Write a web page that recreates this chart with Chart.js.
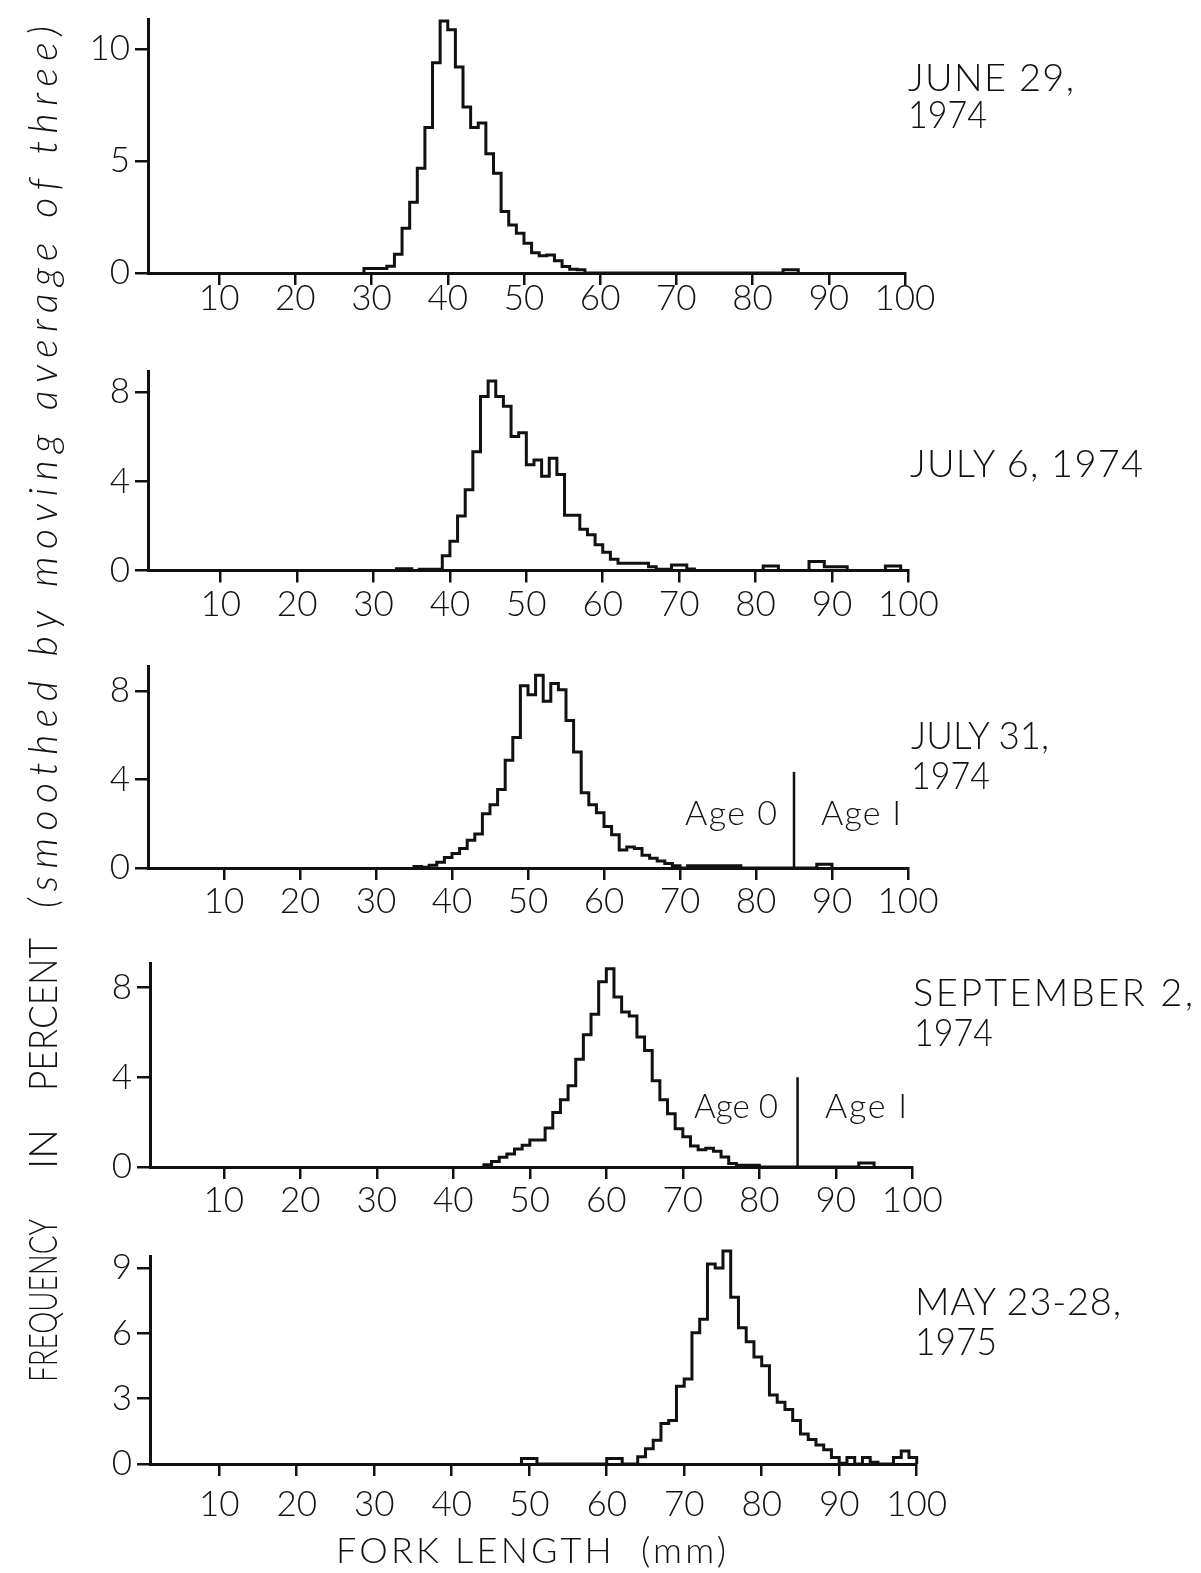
<!DOCTYPE html>
<html>
<head>
<meta charset="utf-8">
<script src="https://cdn.jsdelivr.net/npm/chart.js@4.4.1/dist/chart.umd.min.js"></script>
<style>
  html, body { margin: 0; padding: 0; background: #fff; }
  #page { position: relative; width: 1201px; height: 1573px; overflow: hidden; background: #fff;
          font-family: Lato, "DejaVu Sans", sans-serif; font-weight: 300; color: #111; }
  #page canvas { position: absolute; left: 0; }
  .lbl { position: absolute; white-space: nowrap; line-height: 1; }
  .mark { display: inline-block; width: 0; height: 0; vertical-align: baseline; }
</style>
</head>
<body>
<div id="page"></div>
<script>
// Fork-length axis ticks (mm), shared by every panel
const forkLengthTicks = [10, 20, 30, 40, 50, 60, 70, 80, 90, 100];

// Percent frequency per 1-mm length class, smoothed by a moving average of three.
// Each series starts at the given fork length and runs in 1-mm steps.
const june29Start = 29;
const june29Pct = [
  0.2, 0.2, 0.2, 0.3, 0.84, 2.0, 3.16, 4.68, 6.5, 9.4,
  11.26, 10.87, 9.2, 7.42, 6.5, 6.7, 5.33, 4.46, 2.75, 2.14,
  1.78, 1.33, 0.91, 0.77, 0.8, 0.55, 0.29, 0.17, 0.14, 0,
  0, 0, 0, 0, 0, 0, 0, 0, 0, 0,
  0, 0, 0, 0, 0, 0, 0, 0, 0, 0,
  0, 0, 0, 0, 0, 0.15, 0.15
];
const june29YTicks = [0, 5, 10];

const july6Start = 33;
const july6Pct = [
  0.08, 0.08, 0, 0.06, 0.06, 0.06, 0.66, 1.31, 2.45, 3.62,
  5.33, 7.81, 8.5, 7.81, 7.37, 6.01, 6.18, 4.74, 4.96, 4.23,
  5.04, 4.31, 2.48, 2.48, 1.85, 1.6, 1.15, 0.82, 0.5, 0.32,
  0.32, 0.32, 0.32, 0.17, 0.06, 0.06, 0.25, 0.25, 0.07, 0,
  0, 0, 0, 0, 0, 0, 0, 0, 0.2, 0.2,
  0, 0, 0, 0, 0.4, 0.4, 0.17, 0.17, 0.17, 0,
  0, 0, 0, 0, 0.2, 0.2
];
const july6YTicks = [0, 4, 8];

const july31Start = 35;
const july31Pct = [
  0.07, 0.03, 0.12, 0.26, 0.47, 0.66, 0.88, 1.25, 1.54, 2.46,
  2.86, 3.55, 4.87, 5.9, 8.25, 7.84, 8.72, 7.55, 8.35, 8.06,
  6.67, 5.25, 3.4, 2.86, 2.5, 1.88, 1.51, 0.81, 0.95, 0.88,
  0.58, 0.44, 0.32, 0.2, 0.1, 0, 0.1, 0.1, 0.1, 0.1,
  0.1, 0.1, 0.1, 0, 0, 0, 0, 0, 0, 0,
  0, 0, 0, 0.17, 0.17
];
const july31YTicks = [0, 4, 8];

const sept2Start = 44;
const sept2Pct = [
  0.1, 0.25, 0.43, 0.58, 0.8, 0.97, 1.2, 1.2, 1.74, 2.43,
  3.0, 3.62, 4.81, 5.9, 6.81, 8.26, 8.84, 7.58, 6.91, 6.74,
  5.8, 5.2, 3.85, 3.0, 2.37, 1.71, 1.35, 0.94, 0.77, 0.84,
  0.7, 0.45, 0.16, 0.08, 0.08, 0.08, 0, 0, 0, 0,
  0, 0, 0, 0, 0, 0, 0, 0, 0, 0.18, 0.18
];
const sept2YTicks = [0, 4, 8];

const may1975Start = 49;
const may1975Pct = [
  0.25, 0.25, 0, 0, 0, 0, 0, 0, 0, 0,
  0, 0.25, 0.25, 0, 0, 0.33, 0.7, 1.09, 1.86, 2.0,
  3.57, 3.9, 6.03, 6.65, 9.18, 9.0, 9.78, 7.66, 6.25, 5.61,
  4.91, 4.51, 3.17, 2.83, 2.5, 2.0, 1.38, 1.12, 0.87, 0.65,
  0.3, 0.03, 0.3, 0, 0.3, 0.08, 0, 0, 0.3, 0.6, 0.3
];
const may1975YTicks = [0, 3, 6, 9];

// Boundary between age-0 and age-I fish: [fork length, marker height]
const july31AgeBreak = [85, 4.35];
const sept2AgeBreak = [85, 4.0];

const INK = '#111';
const FONT = 'Lato, "DejaVu Sans", sans-serif';
const page = document.getElementById('page');

// Outline of a 1-mm step histogram, closed down to the baseline at both ends
function stepOutline(start, values) {
  const pts = [{ x: start, y: 0 }];
  values.forEach((v, i) => pts.push({ x: start + i, y: v }));
  pts.push({ x: start + values.length, y: 0 });
  return pts;
}

function makePanel(p) {
  const top = p.baseline - p.yMax * p.unit;
  const right = p.left + (100 - p.xMin) * p.pxPerMm;
  const cTop = Math.floor(top) - 20;
  const cH = Math.ceil(p.baseline) - cTop + 80;
  const Wy = 110, Hx = 70;

  const canvas = document.createElement('canvas');
  canvas.width = 1201; canvas.height = cH;
  canvas.style.width = '1201px'; canvas.style.height = cH + 'px';
  canvas.style.top = cTop + 'px';
  page.appendChild(canvas);

  const datasets = [{
    data: stepOutline(p.start, p.values),
    stepped: 'before', borderColor: INK, borderWidth: 3,
    pointRadius: 0, fill: false, clip: false, borderJoinStyle: 'miter'
  }];
  if (p.ageBreak) {
    datasets.push({
      data: [{ x: p.ageBreak[0], y: 0 }, { x: p.ageBreak[0], y: p.ageBreak[1] }],
      borderColor: INK, borderWidth: 2.5, pointRadius: 0, fill: false
    });
  }

  const tickFont = { family: FONT, size: 35, weight: 300 };
  new Chart(canvas, {
    type: 'line',
    data: { datasets },
    options: {
      responsive: false, animation: false, events: [],
      layout: {
        autoPadding: false,
        padding: { left: p.left - Wy, right: 1201 - right, top: top - cTop, bottom: cTop + cH - p.baseline - Hx }
      },
      plugins: { legend: { display: false }, tooltip: { enabled: false } },
      scales: {
        x: {
          type: 'linear', min: p.xMin, max: 100,
          afterFit: s => { s.height = Hx; },
          afterBuildTicks: s => { s.ticks = forkLengthTicks.map(v => ({ value: v })); },
          grid: { drawOnChartArea: false, tickLength: 12, color: INK, lineWidth: 2.5 },
          border: { color: INK, width: 3 },
          ticks: { font: tickFont, color: INK, padding: p.labelGap, maxRotation: 0, autoSkip: false }
        },
        y: {
          type: 'linear', min: 0, max: p.yMax,
          afterFit: s => { s.width = Wy; },
          afterBuildTicks: s => { s.ticks = p.yTicks.map(v => ({ value: v })); },
          grid: { drawOnChartArea: false, tickLength: 13, color: INK, lineWidth: 2.5 },
          border: { color: INK, width: 3 },
          ticks: { font: tickFont, color: INK, padding: 5, autoSkip: false }
        }
      }
    }
  });
}

// Places a text line with its left edge at x and its baseline at y.
// Wider-than-natural lines are letter-spaced, narrower ones are squeezed.
function addText(html, x, y, size, width, opts) {
  opts = opts || {};
  const d = document.createElement('div');
  d.className = 'lbl';
  d.style.fontSize = size + 'px';
  d.style.left = x + 'px';
  d.style.top = '0px';
  if (opts.style) Object.assign(d.style, opts.style);
  d.innerHTML = html + '<span class="mark"></span>';
  page.appendChild(d);
  const n = d.textContent.length;
  const w = d.getBoundingClientRect().width;
  const base = d.querySelector('.mark').offsetTop;
  let squeeze = 1;
  if (width && w > width) squeeze = width / w;
  else if (width && n > 1) d.style.letterSpacing = ((width - w) / (n - 1)) + 'px';
  d.style.top = (y - base) + 'px';
  d.style.transformOrigin = '0px ' + base + 'px';
  const parts = [];
  if (opts.up) parts.push('rotate(-90deg)');
  if (squeeze !== 1) parts.push('scaleX(' + squeeze + ')');
  if (parts.length) d.style.transform = parts.join(' ');
  return d;
}

function draw() {
  makePanel({ start: june29Start, values: june29Pct, yTicks: june29YTicks, labelGap: -7,
              xMin: 0.66, left: 148, pxPerMm: 7.62, baseline: 273, unit: 22.9, yMax: 11.35 });
  makePanel({ start: july6Start, values: july6Pct, yTicks: july6YTicks, labelGap: 1,
              xMin: 0.48, left: 148, pxPerMm: 7.64, baseline: 570.5, unit: 22.9, yMax: 8.95 });
  makePanel({ start: july31Start, values: july31Pct, yTicks: july31YTicks, ageBreak: july31AgeBreak, labelGap: 1,
              xMin: 0, left: 148, pxPerMm: 7.6, baseline: 868, unit: 22.75, yMax: 9.14 });
  makePanel({ start: sept2Start, values: sept2Pct, yTicks: sept2YTicks, ageBreak: sept2AgeBreak, labelGap: 1,
              xMin: 0.35, left: 150, pxPerMm: 7.65, baseline: 1167, unit: 23, yMax: 9.1 });
  makePanel({ start: may1975Start, values: may1975Pct, yTicks: may1975YTicks, labelGap: 8,
              xMin: 1.07, left: 150, pxPerMm: 7.75, baseline: 1464, unit: 22.4, yMax: 9.55 });

  // Sampling dates
  addText('JUNE 29,', 908, 91, 38, 166);
  addText('1974', 908, 128, 38, 79);
  addText('JULY 6, 1974', 910, 477, 38, 233);
  addText('JULY 31,', 911, 749, 38, 138);
  addText('1974', 911, 789, 38, 79);
  addText('SEPTEMBER 2,', 913, 1006, 38, 280);
  addText('1974', 914, 1046, 38, 79);
  addText('MAY 23-28,', 915, 1315, 38, 206);
  addText('1975', 915, 1355, 38, 82);

  // Age-group labels either side of the break
  addText('Age 0', 685, 825, 34, 92);
  addText('Age I', 821, 825, 34, 80);
  addText('Age 0', 694, 1118, 34, 84);
  addText('Age I', 825, 1118, 34, 82);

  // Axis titles
  addText('FORK LENGTH&nbsp;&nbsp;(mm)', 336, 1563, 36, 390);
  addText('FREQUENCY', 57, 1382, 40, 163, { up: true });
  addText('IN', 57, 1169, 40, 40, { up: true });
  addText('PERCENT', 57, 1091, 40, 153, { up: true });
  addText('(smoothed by moving average of three)', 57, 908, 39, 882,
          { up: true, style: { fontStyle: 'italic' } });
}

if (document.fonts && document.fonts.load) {
  Promise.all([
    document.fonts.load('300 36px Lato'),
    document.fonts.load('italic 300 36px Lato')
  ]).then(draw, draw);
} else {
  draw();
}
</script>
</body>
</html>
